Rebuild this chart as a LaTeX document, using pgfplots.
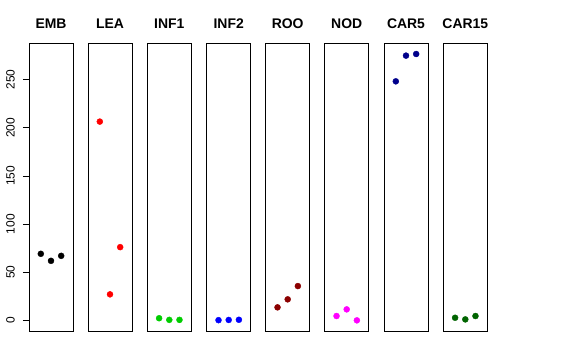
\documentclass[border=0pt]{standalone}
\usepackage{fontspec}
\setmainfont{Liberation Sans}
\usepackage{pgfplots}
\pgfplotsset{compat=1.18}
\definecolor{rgreen}{RGB}{0,205,0}
\definecolor{rdarkred}{RGB}{139,0,0}
\definecolor{rnavy}{RGB}{0,0,139}
\definecolor{rdarkgreen}{RGB}{0,100,0}
\definecolor{rmagenta}{RGB}{255,0,255}
\definecolor{rred}{RGB}{255,0,0}
\definecolor{rblue}{RGB}{0,0,255}
\begin{document}
\begin{tikzpicture}
\path[use as bounding box] (0bp,0bp) rectangle (576bp,360bp);
\pgfplotsset{panel/.style={
  scale only axis, width=44bp, height=287.7bp,
  xmin=-0.16, xmax=4.16, ymin=-11.06, ymax=287.7,
  xtick=\empty, ytick=\empty,
  axis line style={line width=0.75bp, black},
  title style={font=\fontsize{14}{14}\selectfont\bfseries, at={(0.5,1)}, anchor=base, yshift=9.3bp, inner sep=0pt},
  anchor=south west,
  /pgf/number format/assume math mode=true,
}}
\pgfplotsset{pts/.style={only marks, mark=*, mark size=3bp, color=#1, mark options={draw=#1, fill=#1}}}
\begin{axis}[panel, at={(29bp,29bp)}, title=EMB,
  ytick={0,50,100,150,200,250}, tick align=outside, ytick pos=left,
  major tick length=6bp, ytick style={line width=0.75bp, black},
  yticklabel style={rotate=90, anchor=south, inner sep=0pt, font=\fontsize{12}{12}\selectfont},
  yticklabel shift=8bp]
\addplot[pts=black] coordinates {(1,69.1)(2,61.8)(3,67.0)};
\end{axis}
\begin{axis}[panel, at={(88bp,29bp)}, title=LEA]
\addplot[pts=rred] coordinates {(1,206.4)(2,27.0)(3,76.0)};
\end{axis}
\begin{axis}[panel, at={(147.3bp,29bp)}, title=INF1]
\addplot[pts=rgreen] coordinates {(1,2.2)(2,0.5)(3,0.5)};
\end{axis}
\begin{axis}[panel, at={(206.7bp,29bp)}, title=INF2]
\addplot[pts=rblue] coordinates {(1,0.2)(2,0.4)(3,0.6)};
\end{axis}
\begin{axis}[panel, at={(265.7bp,29bp)}, title=ROO]
\addplot[pts=rdarkred] coordinates {(1,13.5)(2,21.8)(3,35.6)};
\end{axis}
\begin{axis}[panel, at={(324.7bp,29bp)}, title=NOD]
\addplot[pts=rmagenta] coordinates {(1,4.5)(2,11.4)(3,0.0)};
\end{axis}
\begin{axis}[panel, at={(384bp,29bp)}, title=CAR5]
\addplot[pts=rnavy] coordinates {(1,248.2)(2,274.9)(3,276.6)};
\end{axis}
\begin{axis}[panel, at={(443.3bp,29bp)}, title=CAR15]
\addplot[pts=rdarkgreen] coordinates {(1,2.7)(2,1.0)(3,4.5)};
\end{axis}
\end{tikzpicture}
\end{document}
